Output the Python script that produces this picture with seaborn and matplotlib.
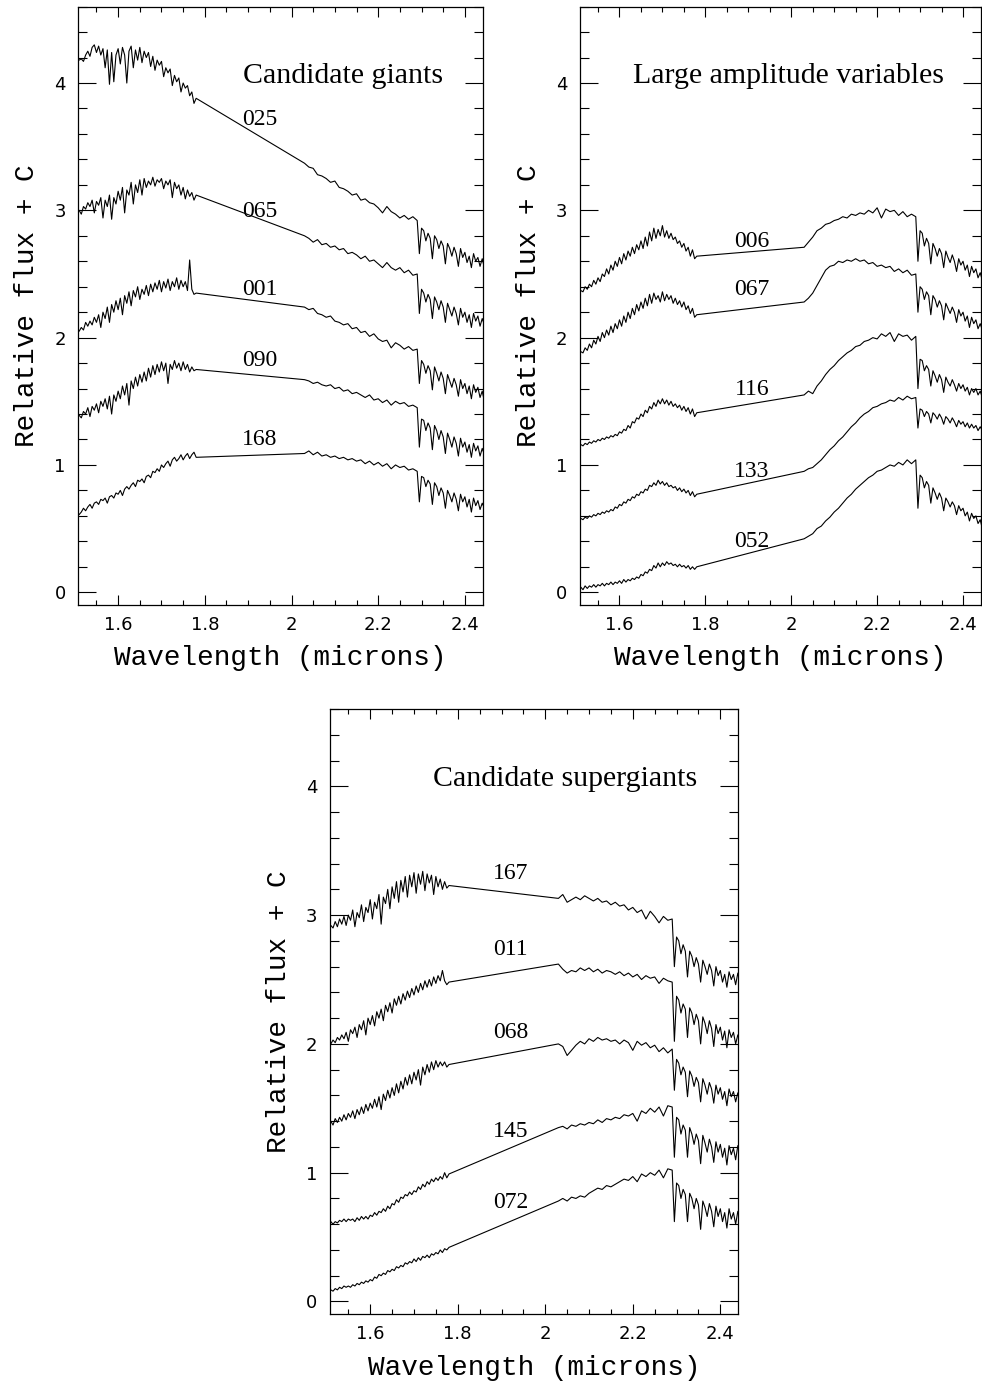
import numpy as np
import pandas as pd
import matplotlib
matplotlib.use("Agg")
import matplotlib.pyplot as plt
from matplotlib.ticker import MultipleLocator, FuncFormatter
import seaborn as sns

# wavelength grid (microns): H band, K band continuum, K band CO region
wl_h = [1.510, 1.515, 1.520, 1.525, 1.530, 1.535, 1.540, 1.545, 1.550, 1.555, 1.560,
        1.565, 1.570, 1.575, 1.580, 1.585, 1.590, 1.595, 1.600, 1.605, 1.610, 1.615,
        1.620, 1.625, 1.630, 1.635, 1.640, 1.645, 1.650, 1.655, 1.660, 1.665, 1.670,
        1.675, 1.680, 1.685, 1.690, 1.695, 1.700, 1.705, 1.710, 1.715, 1.720, 1.725,
        1.730, 1.735, 1.740, 1.745, 1.750, 1.755, 1.760, 1.765, 1.770, 1.775, 1.780]
wl_k1 = [2.03, 2.04, 2.05, 2.06, 2.07, 2.08, 2.09, 2.10, 2.11,
         2.12, 2.13, 2.14, 2.15, 2.16, 2.17, 2.18, 2.19, 2.20,
         2.21, 2.22, 2.23, 2.24, 2.25, 2.26, 2.27, 2.28, 2.29]
wl_k2 = [2.295, 2.300, 2.305, 2.310, 2.315, 2.320, 2.325, 2.330, 2.335, 2.340,
         2.345, 2.350, 2.355, 2.360, 2.365, 2.370, 2.375, 2.380, 2.385, 2.390,
         2.395, 2.400, 2.405, 2.410, 2.415, 2.420, 2.425, 2.430, 2.435, 2.440, 2.445]
wl = wl_h + wl_k1 + wl_k2

# ---- candidate giants
s025 = ([4.18, 4.19, 4.17, 4.22, 4.25, 4.21, 4.28, 4.30, 4.24, 4.29, 4.22,
         4.27, 4.12, 4.26, 3.99, 4.24, 4.01, 4.22, 4.27, 4.15, 4.28, 4.22,
         4.00, 4.25, 4.29, 4.12, 4.26, 4.18, 4.28, 4.16, 4.25, 4.20, 4.24,
         4.13, 4.21, 4.10, 4.18, 4.14, 4.17, 4.05, 4.12, 4.08, 4.11, 3.98,
         4.06, 4.01, 4.04, 3.93, 4.00, 3.96, 3.98, 3.90, 3.93, 3.84, 3.88]
        + [3.37, 3.34, 3.33, 3.28, 3.27, 3.25, 3.22, 3.23, 3.18,
           3.17, 3.15, 3.12, 3.13, 3.08, 3.09, 3.06, 3.05, 3.02,
           2.98, 3.03, 2.99, 2.97, 2.94, 2.96, 2.93, 2.95, 2.92]
        + [2.66, 2.86, 2.84, 2.76, 2.82, 2.78, 2.62, 2.80, 2.77, 2.70,
           2.76, 2.72, 2.58, 2.74, 2.70, 2.64, 2.71, 2.66, 2.56, 2.70,
           2.63, 2.67, 2.59, 2.64, 2.55, 2.66, 2.60, 2.63, 2.56, 2.62, 2.55])
s065 = ([3.00, 2.97, 3.03, 3.01, 3.06, 3.03, 3.08, 2.98, 3.07, 3.04, 3.10,
         2.94, 3.08, 3.03, 3.12, 2.93, 3.10, 3.05, 3.15, 3.08, 3.18, 2.98,
         3.16, 3.12, 3.22, 3.05, 3.20, 3.14, 3.24, 3.12, 3.25, 3.18, 3.23,
         3.20, 3.26, 3.19, 3.24, 3.22, 3.25, 3.17, 3.23, 3.20, 3.24, 3.10,
         3.22, 3.17, 3.20, 3.12, 3.18, 3.09, 3.16, 3.11, 3.14, 3.08, 3.12]
        + [2.80, 2.78, 2.75, 2.77, 2.73, 2.74, 2.71, 2.72, 2.69,
           2.70, 2.66, 2.67, 2.65, 2.62, 2.64, 2.60, 2.61, 2.58,
           2.55, 2.59, 2.55, 2.53, 2.55, 2.51, 2.53, 2.49, 2.50]
        + [2.19, 2.38, 2.35, 2.28, 2.34, 2.30, 2.15, 2.32, 2.28, 2.22,
           2.29, 2.24, 2.12, 2.27, 2.22, 2.17, 2.24, 2.19, 2.10, 2.23,
           2.16, 2.20, 2.12, 2.18, 2.08, 2.19, 2.13, 2.17, 2.09, 2.15, 2.10])
s001 = ([2.05, 2.08, 2.06, 2.12, 2.09, 2.13, 2.10, 2.16, 2.12, 2.18, 2.08,
         2.20, 2.15, 2.24, 2.12, 2.26, 2.20, 2.29, 2.22, 2.31, 2.18, 2.33,
         2.27, 2.36, 2.25, 2.37, 2.32, 2.40, 2.30, 2.38, 2.34, 2.41, 2.33,
         2.42, 2.36, 2.43, 2.38, 2.45, 2.36, 2.44, 2.39, 2.46, 2.37, 2.44,
         2.40, 2.47, 2.38, 2.45, 2.40, 2.44, 2.37, 2.61, 2.38, 2.34, 2.35]
        + [2.24, 2.22, 2.23, 2.19, 2.18, 2.16, 2.17, 2.13, 2.12,
           2.10, 2.11, 2.07, 2.08, 2.04, 2.05, 2.01, 2.03, 1.99,
           1.97, 1.98, 1.92, 1.96, 1.94, 1.91, 1.93, 1.90, 1.91]
        + [1.64, 1.82, 1.79, 1.72, 1.78, 1.74, 1.59, 1.77, 1.72, 1.66,
           1.73, 1.68, 1.56, 1.71, 1.66, 1.61, 1.68, 1.63, 1.54, 1.67,
           1.60, 1.64, 1.56, 1.62, 1.52, 1.63, 1.57, 1.61, 1.53, 1.58, 1.50])
s090 = ([1.39, 1.37, 1.42, 1.40, 1.45, 1.38, 1.46, 1.43, 1.48, 1.41, 1.50,
         1.46, 1.52, 1.44, 1.54, 1.40, 1.55, 1.50, 1.58, 1.52, 1.62, 1.55,
         1.64, 1.47, 1.66, 1.60, 1.69, 1.62, 1.71, 1.65, 1.73, 1.66, 1.76,
         1.69, 1.78, 1.71, 1.79, 1.73, 1.81, 1.74, 1.80, 1.64, 1.79, 1.75,
         1.82, 1.76, 1.80, 1.74, 1.81, 1.75, 1.79, 1.73, 1.77, 1.74, 1.75]
        + [1.67, 1.66, 1.64, 1.65, 1.63, 1.62, 1.63, 1.60, 1.61,
           1.58, 1.59, 1.56, 1.57, 1.55, 1.53, 1.55, 1.51, 1.52,
           1.49, 1.51, 1.47, 1.50, 1.48, 1.49, 1.46, 1.47, 1.45]
        + [1.14, 1.36, 1.35, 1.27, 1.33, 1.29, 1.12, 1.31, 1.27, 1.20,
           1.27, 1.22, 1.09, 1.25, 1.20, 1.14, 1.22, 1.17, 1.07, 1.21,
           1.14, 1.18, 1.10, 1.16, 1.06, 1.17, 1.11, 1.15, 1.07, 1.13, 1.08])
s168 = ([0.61, 0.63, 0.66, 0.64, 0.67, 0.69, 0.66, 0.70, 0.71, 0.69, 0.73,
         0.72, 0.74, 0.70, 0.75, 0.76, 0.74, 0.78, 0.77, 0.80, 0.76, 0.81,
         0.83, 0.81, 0.84, 0.86, 0.83, 0.88, 0.87, 0.89, 0.86, 0.91, 0.92,
         0.90, 0.95, 0.94, 0.97, 0.95, 1.00, 0.98, 1.01, 1.03, 0.99, 1.04,
         1.06, 1.03, 1.05, 1.08, 1.04, 1.07, 1.09, 1.05, 1.08, 1.10, 1.06]
        + [1.09, 1.11, 1.08, 1.10, 1.07, 1.08, 1.06, 1.07, 1.05,
           1.06, 1.04, 1.05, 1.03, 1.04, 1.01, 1.03, 1.00, 1.02,
           0.99, 1.01, 0.97, 1.00, 0.98, 0.99, 0.96, 0.97, 0.95]
        + [0.71, 0.91, 0.90, 0.83, 0.88, 0.85, 0.69, 0.86, 0.83, 0.76,
           0.82, 0.78, 0.66, 0.80, 0.76, 0.71, 0.78, 0.73, 0.64, 0.77,
           0.71, 0.75, 0.67, 0.73, 0.63, 0.74, 0.68, 0.72, 0.65, 0.70, 0.66])

# ---- large amplitude variables
s006 = ([2.37, 2.36, 2.40, 2.38, 2.42, 2.40, 2.45, 2.42, 2.47, 2.44, 2.50,
         2.48, 2.54, 2.50, 2.57, 2.53, 2.60, 2.56, 2.63, 2.58, 2.66, 2.61,
         2.68, 2.64, 2.71, 2.66, 2.73, 2.69, 2.76, 2.70, 2.79, 2.72, 2.83,
         2.76, 2.86, 2.78, 2.85, 2.80, 2.88, 2.79, 2.84, 2.78, 2.82, 2.77,
         2.79, 2.74, 2.76, 2.71, 2.74, 2.68, 2.71, 2.64, 2.69, 2.62, 2.64]
        + [2.71, 2.75, 2.79, 2.84, 2.86, 2.89, 2.90, 2.92, 2.93,
           2.95, 2.94, 2.97, 2.96, 2.98, 2.97, 3.00, 2.98, 3.02,
           2.94, 3.01, 2.99, 3.00, 2.96, 2.99, 2.95, 2.97, 2.95]
        + [2.60, 2.84, 2.82, 2.72, 2.78, 2.74, 2.58, 2.74, 2.70, 2.64,
           2.70, 2.66, 2.55, 2.68, 2.63, 2.59, 2.65, 2.60, 2.52, 2.62,
           2.57, 2.60, 2.53, 2.57, 2.48, 2.56, 2.51, 2.54, 2.47, 2.51, 2.45])
s067 = ([1.89, 1.88, 1.92, 1.90, 1.95, 1.92, 1.98, 1.95, 2.01, 1.97, 2.04,
         2.00, 2.06, 2.02, 2.09, 2.04, 2.11, 2.07, 2.14, 2.09, 2.17, 2.12,
         2.20, 2.15, 2.23, 2.18, 2.26, 2.21, 2.28, 2.23, 2.31, 2.25, 2.34,
         2.27, 2.35, 2.30, 2.33, 2.28, 2.36, 2.29, 2.34, 2.30, 2.33, 2.27,
         2.31, 2.26, 2.29, 2.24, 2.28, 2.22, 2.25, 2.19, 2.23, 2.16, 2.18]
        + [2.28, 2.31, 2.35, 2.41, 2.47, 2.53, 2.56, 2.57, 2.60,
           2.59, 2.61, 2.60, 2.62, 2.60, 2.61, 2.58, 2.59, 2.56,
           2.57, 2.55, 2.56, 2.52, 2.54, 2.51, 2.53, 2.49, 2.50]
        + [2.20, 2.40, 2.38, 2.30, 2.36, 2.33, 2.18, 2.33, 2.30, 2.24,
           2.29, 2.25, 2.14, 2.27, 2.23, 2.19, 2.24, 2.20, 2.12, 2.22,
           2.17, 2.20, 2.13, 2.17, 2.08, 2.16, 2.11, 2.14, 2.07, 2.11, 2.06])
s116 = ([1.16, 1.15, 1.17, 1.16, 1.18, 1.17, 1.19, 1.18, 1.20, 1.19, 1.21,
         1.20, 1.22, 1.21, 1.23, 1.22, 1.24, 1.23, 1.26, 1.25, 1.28, 1.27,
         1.31, 1.29, 1.34, 1.33, 1.37, 1.36, 1.40, 1.38, 1.43, 1.41, 1.46,
         1.44, 1.49, 1.46, 1.51, 1.48, 1.52, 1.48, 1.51, 1.47, 1.50, 1.46,
         1.48, 1.45, 1.47, 1.43, 1.46, 1.42, 1.45, 1.40, 1.44, 1.38, 1.41]
        + [1.55, 1.58, 1.56, 1.62, 1.66, 1.71, 1.75, 1.78, 1.82,
           1.85, 1.88, 1.90, 1.93, 1.94, 1.97, 1.98, 2.00, 1.99,
           2.03, 2.01, 2.04, 1.97, 2.03, 2.01, 2.02, 1.98, 2.01]
        + [1.60, 1.83, 1.82, 1.74, 1.78, 1.75, 1.62, 1.74, 1.70, 1.65,
           1.71, 1.67, 1.57, 1.69, 1.65, 1.62, 1.67, 1.63, 1.58, 1.64,
           1.60, 1.63, 1.58, 1.61, 1.55, 1.60, 1.57, 1.60, 1.55, 1.58, 1.53])
s133 = ([0.58, 0.57, 0.59, 0.58, 0.60, 0.59, 0.61, 0.60, 0.62, 0.61, 0.63,
         0.62, 0.64, 0.63, 0.65, 0.64, 0.67, 0.66, 0.69, 0.68, 0.71, 0.70,
         0.73, 0.72, 0.75, 0.74, 0.77, 0.76, 0.79, 0.78, 0.81, 0.80, 0.84,
         0.83, 0.86, 0.84, 0.88, 0.85, 0.87, 0.84, 0.86, 0.83, 0.84, 0.82,
         0.83, 0.80, 0.82, 0.79, 0.81, 0.78, 0.80, 0.76, 0.79, 0.75, 0.77]
        + [0.95, 0.97, 0.98, 1.01, 1.04, 1.08, 1.12, 1.15, 1.19,
           1.22, 1.26, 1.30, 1.33, 1.37, 1.40, 1.42, 1.45, 1.46,
           1.48, 1.49, 1.51, 1.50, 1.53, 1.51, 1.54, 1.52, 1.53]
        + [1.29, 1.44, 1.43, 1.38, 1.42, 1.40, 1.33, 1.41, 1.39, 1.36,
           1.40, 1.37, 1.32, 1.38, 1.36, 1.33, 1.37, 1.34, 1.30, 1.35,
           1.32, 1.34, 1.30, 1.33, 1.29, 1.32, 1.29, 1.31, 1.27, 1.30, 1.27])
s052 = ([0.04, 0.02, 0.05, 0.03, 0.05, 0.04, 0.06, 0.04, 0.06, 0.05, 0.07,
         0.05, 0.07, 0.06, 0.08, 0.06, 0.08, 0.07, 0.09, 0.07, 0.10, 0.08,
         0.10, 0.09, 0.11, 0.10, 0.12, 0.11, 0.14, 0.13, 0.16, 0.15, 0.18,
         0.17, 0.21, 0.19, 0.23, 0.20, 0.23, 0.21, 0.24, 0.22, 0.23, 0.21,
         0.22, 0.20, 0.22, 0.20, 0.21, 0.19, 0.21, 0.18, 0.20, 0.18, 0.20]
        + [0.42, 0.44, 0.46, 0.50, 0.52, 0.56, 0.59, 0.63, 0.66,
           0.70, 0.74, 0.77, 0.81, 0.84, 0.87, 0.90, 0.92, 0.95,
           0.96, 0.98, 1.00, 0.99, 1.02, 1.00, 1.04, 1.01, 1.04]
        + [0.66, 0.92, 0.90, 0.82, 0.87, 0.84, 0.70, 0.82, 0.78, 0.73,
           0.78, 0.74, 0.64, 0.74, 0.71, 0.67, 0.71, 0.68, 0.61, 0.68,
           0.64, 0.66, 0.60, 0.63, 0.56, 0.62, 0.58, 0.60, 0.54, 0.57, 0.50])

# ---- candidate supergiants
s167 = ([2.92, 2.90, 2.95, 2.91, 2.97, 2.93, 2.99, 2.92, 3.00, 2.96, 3.04,
         2.91, 3.02, 2.98, 3.08, 2.95, 3.06, 3.02, 3.12, 2.97, 3.10, 3.05,
         3.16, 2.93, 3.14, 3.09, 3.20, 3.05, 3.22, 3.13, 3.26, 3.10, 3.27,
         3.18, 3.30, 3.14, 3.31, 3.22, 3.33, 3.17, 3.32, 3.24, 3.34, 3.19,
         3.32, 3.25, 3.31, 3.16, 3.30, 3.22, 3.28, 3.20, 3.26, 3.21, 3.23]
        + [3.13, 3.16, 3.10, 3.12, 3.14, 3.12, 3.15, 3.13, 3.11,
           3.13, 3.10, 3.11, 3.08, 3.10, 3.07, 3.08, 3.04, 3.06,
           3.02, 3.04, 2.97, 3.03, 2.99, 2.94, 2.99, 2.96, 2.97]
        + [2.60, 2.83, 2.80, 2.70, 2.77, 2.72, 2.52, 2.72, 2.68, 2.60,
           2.67, 2.62, 2.48, 2.65, 2.60, 2.54, 2.62, 2.57, 2.45, 2.60,
           2.53, 2.57, 2.48, 2.54, 2.44, 2.56, 2.50, 2.54, 2.46, 2.55, 2.47])
s011 = ([2.00, 2.03, 2.01, 2.05, 2.03, 2.07, 2.04, 2.09, 2.02, 2.11, 2.08,
         2.13, 2.05, 2.15, 2.11, 2.18, 2.07, 2.20, 2.15, 2.22, 2.14, 2.25,
         2.20, 2.27, 2.18, 2.30, 2.25, 2.32, 2.24, 2.35, 2.30, 2.37, 2.31,
         2.39, 2.34, 2.41, 2.36, 2.43, 2.38, 2.45, 2.40, 2.47, 2.42, 2.49,
         2.44, 2.50, 2.45, 2.52, 2.47, 2.53, 2.49, 2.57, 2.49, 2.46, 2.48]
        + [2.62, 2.58, 2.55, 2.57, 2.56, 2.59, 2.57, 2.59, 2.56,
           2.58, 2.55, 2.57, 2.56, 2.54, 2.56, 2.53, 2.55, 2.52,
           2.54, 2.50, 2.53, 2.51, 2.52, 2.47, 2.51, 2.49, 2.48]
        + [2.02, 2.37, 2.34, 2.24, 2.31, 2.27, 2.05, 2.28, 2.24, 2.15,
           2.23, 2.18, 2.00, 2.21, 2.16, 2.08, 2.18, 2.12, 1.98, 2.15,
           2.08, 2.13, 2.03, 2.10, 1.97, 2.11, 2.05, 2.09, 2.00, 2.07, 2.02])
s068 = ([1.40, 1.37, 1.42, 1.39, 1.43, 1.40, 1.45, 1.41, 1.46, 1.43, 1.48,
         1.42, 1.49, 1.45, 1.51, 1.46, 1.53, 1.48, 1.54, 1.50, 1.57, 1.51,
         1.59, 1.49, 1.61, 1.56, 1.64, 1.58, 1.66, 1.60, 1.69, 1.62, 1.71,
         1.65, 1.74, 1.68, 1.76, 1.69, 1.78, 1.72, 1.80, 1.68, 1.82, 1.76,
         1.84, 1.78, 1.86, 1.80, 1.87, 1.82, 1.86, 1.83, 1.86, 1.82, 1.84]
        + [2.00, 1.98, 1.91, 1.95, 1.99, 2.02, 2.00, 2.04, 2.02,
           2.05, 2.03, 2.04, 2.02, 2.03, 2.00, 2.03, 2.01, 1.95,
           2.02, 1.99, 2.01, 1.97, 1.99, 1.94, 1.97, 1.93, 1.96]
        + [1.64, 1.88, 1.85, 1.76, 1.82, 1.78, 1.59, 1.79, 1.75, 1.67,
           1.74, 1.70, 1.55, 1.73, 1.68, 1.61, 1.70, 1.65, 1.54, 1.68,
           1.61, 1.66, 1.57, 1.63, 1.52, 1.65, 1.59, 1.63, 1.55, 1.62, 1.57])
s145 = ([0.62, 0.60, 0.62, 0.61, 0.63, 0.62, 0.64, 0.62, 0.64, 0.63, 0.64,
         0.62, 0.65, 0.63, 0.66, 0.64, 0.66, 0.64, 0.67, 0.66, 0.69, 0.67,
         0.70, 0.69, 0.72, 0.70, 0.74, 0.72, 0.76, 0.75, 0.79, 0.77, 0.81,
         0.80, 0.83, 0.82, 0.85, 0.83, 0.86, 0.85, 0.89, 0.87, 0.91, 0.89,
         0.93, 0.91, 0.95, 0.93, 0.96, 0.94, 0.97, 0.95, 1.00, 0.96, 0.99]
        + [1.35, 1.36, 1.34, 1.37, 1.36, 1.38, 1.37, 1.39, 1.38,
           1.41, 1.39, 1.42, 1.41, 1.43, 1.42, 1.45, 1.44, 1.46,
           1.40, 1.48, 1.46, 1.50, 1.47, 1.51, 1.44, 1.52, 1.51]
        + [1.12, 1.43, 1.41, 1.30, 1.37, 1.33, 1.12, 1.35, 1.30, 1.22,
           1.30, 1.25, 1.07, 1.29, 1.23, 1.16, 1.26, 1.20, 1.08, 1.24,
           1.16, 1.22, 1.12, 1.19, 1.06, 1.21, 1.14, 1.19, 1.10, 1.21, 1.17])
s072 = ([0.09, 0.08, 0.10, 0.09, 0.11, 0.10, 0.12, 0.11, 0.12, 0.11, 0.13,
         0.12, 0.14, 0.13, 0.15, 0.14, 0.16, 0.15, 0.17, 0.16, 0.19, 0.18,
         0.21, 0.20, 0.22, 0.21, 0.24, 0.23, 0.25, 0.24, 0.27, 0.26, 0.28,
         0.27, 0.30, 0.29, 0.31, 0.30, 0.33, 0.31, 0.34, 0.32, 0.35, 0.34,
         0.36, 0.34, 0.37, 0.36, 0.38, 0.37, 0.40, 0.38, 0.41, 0.40, 0.42]
        + [0.78, 0.80, 0.78, 0.81, 0.80, 0.82, 0.81, 0.84, 0.86,
           0.88, 0.87, 0.90, 0.89, 0.91, 0.93, 0.95, 0.94, 0.97,
           0.93, 0.99, 0.97, 1.00, 0.98, 1.02, 0.96, 1.03, 1.02]
        + [0.62, 0.92, 0.90, 0.80, 0.87, 0.83, 0.62, 0.84, 0.80, 0.72,
           0.80, 0.75, 0.56, 0.78, 0.73, 0.66, 0.76, 0.70, 0.58, 0.74,
           0.66, 0.72, 0.62, 0.69, 0.57, 0.72, 0.64, 0.69, 0.60, 0.70, 0.66])

giant_ids = ["025", "065", "001", "090", "168"]
giant_flux = [s025, s065, s001, s090, s168]
variable_ids = ["006", "067", "116", "133", "052"]
variable_flux = [s006, s067, s116, s133, s052]
super_ids = ["167", "011", "068", "145", "072"]
super_flux = [s167, s011, s068, s145, s072]

# label placement (data coords, text baseline)
giant_lab_x, giant_lab_y = 1.927, [3.67, 2.95, 2.335, 1.78, 1.157]
variable_lab_x, variable_lab_y = 1.9085, [2.715, 2.335, 1.55, 0.908, 0.358]
super_lab_x, super_lab_y = 1.9215, [3.284, 2.688, 2.044, 1.279, 0.724]

sns.set_theme(style="ticks")
plt.rcParams["font.family"] = ["DejaVu Sans"]
plt.rcParams["text.color"] = "black"
plt.rcParams["axes.labelcolor"] = "black"

fig = plt.figure(figsize=(9.82, 13.86), dpi=100)

panels = [
    ([0.0797, 0.5635, 0.4118, 0.4317], "Candidate giants", 1.889,
     giant_ids, giant_flux, giant_lab_x, giant_lab_y),
    ([0.5906, 0.5635, 0.4080, 0.4317], "Large amplitude variables", 1.631,
     variable_ids, variable_flux, variable_lab_x, variable_lab_y),
    ([0.3360, 0.0517, 0.4158, 0.4367], "Candidate supergiants", 1.744,
     super_ids, super_flux, super_lab_x, super_lab_y),
]

for rect, title, title_x, ids, fluxes, lab_x, lab_y in panels:
    for f in fluxes:
        assert len(f) == len(wl), len(f)
    ax = fig.add_axes(rect)
    df = pd.DataFrame({
        "wl": wl * len(ids),
        "flux": sum(fluxes, []),
        "star": np.repeat(ids, len(wl)),
    })
    sns.lineplot(data=df, x="wl", y="flux", units="star", estimator=None,
                 sort=False, color="black", linewidth=0.8, ax=ax, legend=False)

    ax.set_xlim(1.508, 2.441)
    ax.set_ylim(-0.1, 4.6)
    ax.xaxis.set_major_locator(MultipleLocator(0.2))
    ax.xaxis.set_minor_locator(MultipleLocator(0.05))
    ax.yaxis.set_major_locator(MultipleLocator(1))
    ax.yaxis.set_minor_locator(MultipleLocator(0.2))
    ax.xaxis.set_major_formatter(FuncFormatter(lambda v, p: f"{v:g}"))

    ax.tick_params(axis="x", which="major", direction="in", length=7, width=0.8,
                   top=True, bottom=True, labelsize=13, pad=8, colors="black")
    ax.tick_params(axis="x", which="minor", direction="in", length=3.5, width=0.8,
                   top=True, bottom=True, colors="black")
    ax.tick_params(axis="y", which="major", direction="in", length=13, width=0.8,
                   left=True, right=True, labelsize=13, pad=9, colors="black")
    ax.tick_params(axis="y", which="minor", direction="in", length=6.5, width=0.8,
                   left=True, right=True, colors="black")
    for sp in ax.spines.values():
        sp.set_color("black")
        sp.set_linewidth(0.9)

    ax.set_xlabel("Wavelength (microns)", fontfamily="Liberation Mono",
                  fontsize=20, labelpad=8)
    ax.set_ylabel("Relative flux + C", fontfamily="Liberation Mono",
                  fontsize=20, labelpad=10)

    ax.text(title_x, 4.0, title, fontfamily="Liberation Serif", fontsize=21.5,
            ha="left", va="baseline")
    for sid, y in zip(ids, lab_y):
        ax.text(lab_x, y, sid, fontfamily="Liberation Serif", fontsize=17,
                ha="center", va="baseline")

fig.savefig("out.png", dpi=100)
